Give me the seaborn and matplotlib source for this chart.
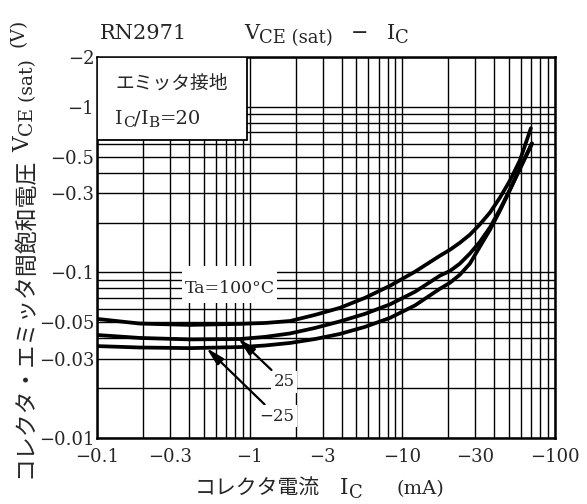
import numpy as np
import pandas as pd
import matplotlib
matplotlib.use("Agg")
import matplotlib.pyplot as plt
import seaborn as sns
from matplotlib.patches import Rectangle
from matplotlib.ticker import FixedLocator, FixedFormatter, LogLocator, NullFormatter

# |IC| (mA) and |VCE(sat)| (V)
ic_100 = [0.1, 0.191, 0.406, 0.864, 1.26, 1.84, 2.68, 3.90, 5.69, 8.29, 12.1,
          17.6, 20.5, 23.8, 27.7, 32.2, 37.5, 43.6, 50.7, 58.9, 69.5]
vce_100 = [0.0524, 0.0491, 0.0482, 0.0489, 0.0495, 0.0509, 0.0554, 0.0611, 0.0702, 0.0830, 0.101,
           0.126, 0.137, 0.151, 0.169, 0.195, 0.230, 0.283, 0.359, 0.475, 0.743]

ic_25 = [0.1, 0.191, 0.406, 0.864, 1.26, 1.84, 2.68, 3.90, 5.69, 8.29, 12.1,
         17.6, 20.5, 23.8, 27.7, 32.2, 37.5, 43.6, 50.7, 58.9, 70.6]
vce_25 = [0.0419, 0.0402, 0.0394, 0.0396, 0.0408, 0.0428, 0.0462, 0.0506, 0.0562, 0.0641, 0.0764,
          0.0955, 0.102, 0.113, 0.130, 0.153, 0.187, 0.240, 0.317, 0.425, 0.602]

ic_m25 = [0.1, 0.191, 0.406, 0.864, 1.26, 1.84, 2.68, 3.90, 5.69, 8.29, 12.1,
          17.6, 20.5, 23.8, 27.7, 32.2, 37.5, 43.6, 50.7, 58.9, 70.6]
vce_m25 = [0.0359, 0.0352, 0.0349, 0.0354, 0.0362, 0.0375, 0.0396, 0.0425, 0.0469, 0.0531, 0.0632,
           0.0796, 0.0866, 0.0968, 0.113, 0.143, 0.181, 0.236, 0.315, 0.422, 0.598]

x_ticks = [0.1, 0.3, 1, 3, 10, 30, 100]
x_labels = ["\u22120.1", "\u22120.3", "\u22121", "\u22123", "\u221210", "\u221230", "\u2212100"]
y_ticks = [0.01, 0.03, 0.05, 0.1, 0.3, 0.5, 1, 2]
y_labels = ["\u22120.01", "\u22120.03", "\u22120.05", "\u22120.1", "\u22120.3", "\u22120.5", "\u22121", "\u22122"]

W, H = 587, 504
SERIF = 'DejaVu Serif'
JP = 'Noto Sans CJK JP'


def fx(px):
    return px / W


def fy(py):
    return 1 - py / H


sns.set_style("white")
plt.rcParams['font.family'] = [SERIF, JP]

df = pd.concat([
    pd.DataFrame({'ic': ic_100, 'vce': vce_100, 'ta': '100'}),
    pd.DataFrame({'ic': ic_25, 'vce': vce_25, 'ta': '25'}),
    pd.DataFrame({'ic': ic_m25, 'vce': vce_m25, 'ta': '-25'}),
])

fig = plt.figure(figsize=(W / 100, H / 100), dpi=100)
renderer = fig.canvas.get_renderer()


def text_run(x, y, pieces, rotate=False):
    """Lay text pieces one after another from a baseline point (pixels, from top left).
    A number in the list is a gap in pixels."""
    for piece in pieces:
        if isinstance(piece, (int, float)):
            if rotate:
                y -= piece
            else:
                x += piece
            continue
        s, size, drop, fam = piece
        if rotate:
            t = fig.text(fx(x + drop), fy(y), s, fontsize=size, family=fam, rotation=90,
                         rotation_mode='anchor', ha='left', va='baseline')
            y -= t.get_window_extent(renderer).height
        else:
            t = fig.text(fx(x), fy(y + drop), s, fontsize=size, family=fam,
                         ha='left', va='baseline')
            x += t.get_window_extent(renderer).width


ax = fig.add_axes([fx(97), fy(438), (555 - 97) / W, (438 - 57) / H])
ax.set_xscale('log')
ax.set_yscale('log')

sns.lineplot(data=df, x='ic', y='vce', hue='ta', palette=['black'] * 3,
             linewidth=2.7, legend=False, estimator=None, sort=False, ax=ax, zorder=5)

ax.set_xlim(0.1, 100)
ax.set_ylim(0.01, 2)
ax.xaxis.set_major_locator(FixedLocator(x_ticks))
ax.xaxis.set_major_formatter(FixedFormatter(x_labels))
ax.yaxis.set_major_locator(FixedLocator(y_ticks))
ax.yaxis.set_major_formatter(FixedFormatter(y_labels))
for axis in (ax.xaxis, ax.yaxis):
    axis.set_minor_locator(LogLocator(base=10, subs=np.arange(1, 10), numticks=30))
    axis.set_minor_formatter(NullFormatter())
ax.tick_params(which='both', length=0, labelsize=13)
ax.tick_params(axis='x', pad=7)
ax.tick_params(axis='y', pad=2)
ax.set_xlabel('')
ax.set_ylabel('')
ax.set_axisbelow(True)
ax.grid(which='both', color='black', linewidth=1.0)
for sp in ax.spines.values():
    sp.set_color('black')
    sp.set_linewidth(1.8)

# white inset box, upper left
ax.add_patch(Rectangle((0, 0.7816), 0.3275, 0.2184, transform=ax.transAxes,
                       facecolor='white', edgecolor='black', linewidth=1.3, zorder=3))
text_run(115, 89, [("エミッタ接地", 13.5, 0, JP)])
text_run(115, 124, [("I", 14, 0, SERIF), ("C", 11, 3, SERIF), ("/", 14, 0, SERIF),
                    ("I", 14, 0, SERIF), ("B", 11, 3, SERIF), ("=20", 14, 0, SERIF)])

# Ta label with a blank patch behind it
ax.add_patch(Rectangle((0.1856, 0.355), 0.2074, 0.0976, transform=ax.transAxes,
                       facecolor='white', edgecolor='none', zorder=3))
ax.text(0.742, 0.0796, "Ta=100°C", fontsize=12.5, ha='center', va='center', zorder=6)

arrow = dict(arrowstyle='-|>,head_length=0.9,head_width=0.22', color='black',
             lw=1.6, shrinkA=1, shrinkB=0)
box = dict(boxstyle='square,pad=0.15', facecolor='white', edgecolor='none')
ax.annotate("25", xy=(0.84, 0.0400), xytext=(1.68, 0.0218), fontsize=12,
            ha='center', va='center', arrowprops=arrow, bbox=box, zorder=6)
ax.annotate("\u221225", xy=(0.52, 0.0350), xytext=(1.51, 0.0135), fontsize=12,
            ha='center', va='center', arrowprops=arrow, bbox=box, zorder=6)

# title
text_run(100, 39, [("RN2971", 15, 0, SERIF)])
text_run(244, 39, [("V", 15, 0, SERIF), ("CE (sat)", 13, 4, SERIF), 18,
                   ("\u2212", 15, 0, SERIF), 18, ("I", 15, 0, SERIF), ("C", 13, 4, SERIF)])

# x label
text_run(195, 494, [("コレクタ電流", 15, 0, JP), 20, ("I", 15.5, 0, SERIF), ("C", 13, 4, SERIF),
                    34, ("(mA)", 14, 0, SERIF)])

# y label, rotated, bottom to top
text_run(31, 478, [("コレクタ・エミッタ間飽和電圧", 16.5, 0, JP), 6,
                   ("V", 15.5, -2, SERIF), ("CE (sat)", 13.5, 2, SERIF), 12,
                   ("(V)", 13.5, -7, SERIF)], rotate=True)

fig.savefig("out.png", dpi=100)
